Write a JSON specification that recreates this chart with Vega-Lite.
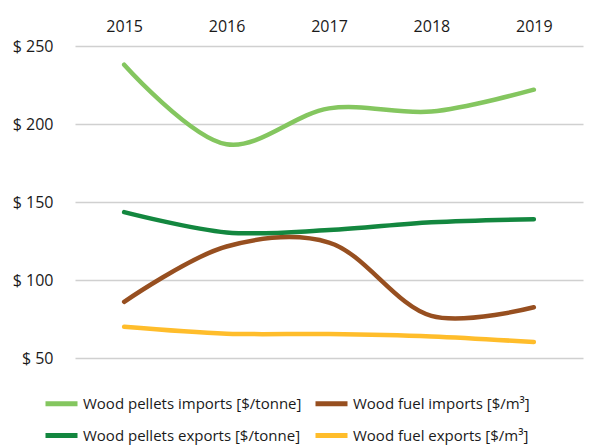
{
  "$schema": "https://vega.github.io/schema/vega-lite/v6.json",
  "width": 508,
  "height": 312,
  "autosize": "none",
  "padding": {"left": 75, "top": 46, "right": 9, "bottom": 89},
  "background": "white",
  "config": {
    "font": "Open Sans",
    "view": {"stroke": null}
  },
  "data": {
    "values": [
      {"year": "2015", "series": "Wood pellets imports [$/tonne]", "price": 238},
      {"year": "2016", "series": "Wood pellets imports [$/tonne]", "price": 187},
      {"year": "2017", "series": "Wood pellets imports [$/tonne]", "price": 210},
      {"year": "2018", "series": "Wood pellets imports [$/tonne]", "price": 208},
      {"year": "2019", "series": "Wood pellets imports [$/tonne]", "price": 222},
      {"year": "2015", "series": "Wood pellets exports [$/tonne]", "price": 143.5},
      {"year": "2016", "series": "Wood pellets exports [$/tonne]", "price": 130.5},
      {"year": "2017", "series": "Wood pellets exports [$/tonne]", "price": 132},
      {"year": "2018", "series": "Wood pellets exports [$/tonne]", "price": 137},
      {"year": "2019", "series": "Wood pellets exports [$/tonne]", "price": 139},
      {"year": "2015", "series": "Wood fuel imports [$/m³]", "price": 86},
      {"year": "2016", "series": "Wood fuel imports [$/m³]", "price": 121.5},
      {"year": "2017", "series": "Wood fuel imports [$/m³]", "price": 124},
      {"year": "2018", "series": "Wood fuel imports [$/m³]", "price": 77},
      {"year": "2019", "series": "Wood fuel imports [$/m³]", "price": 82.5},
      {"year": "2015", "series": "Wood fuel exports [$/m³]", "price": 70},
      {"year": "2016", "series": "Wood fuel exports [$/m³]", "price": 65.6},
      {"year": "2017", "series": "Wood fuel exports [$/m³]", "price": 65.4},
      {"year": "2018", "series": "Wood fuel exports [$/m³]", "price": 63.8},
      {"year": "2019", "series": "Wood fuel exports [$/m³]", "price": 60.2}
    ]
  },
  "mark": {"type": "line", "interpolate": "catmull-rom", "strokeWidth": 4.5, "strokeCap": "round"},
  "encoding": {
    "x": {
      "field": "year",
      "type": "ordinal",
      "scale": {"type": "point", "padding": 0.48},
      "axis": {
        "orient": "top",
        "title": null,
        "domain": false,
        "ticks": false,
        "labelAngle": 0,
        "labelFontSize": 16,
        "labelColor": "#1a1a1a",
        "labelPadding": 12,
        "grid": false
      }
    },
    "y": {
      "field": "price",
      "type": "quantitative",
      "scale": {"domain": [50, 250], "nice": false, "zero": false},
      "axis": {
        "title": null,
        "domain": false,
        "ticks": false,
        "values": [50, 100, 150, 200, 250],
        "labelExpr": "'$ ' + datum.value",
        "labelFontSize": 16,
        "labelColor": "#1a1a1a",
        "labelPadding": 22,
        "gridColor": "#d0d0d0",
        "gridWidth": 1.5
      }
    },
    "color": {
      "field": "series",
      "type": "nominal",
      "scale": {
        "domain": ["Wood pellets imports [$/tonne]", "Wood pellets exports [$/tonne]", "Wood fuel imports [$/m³]", "Wood fuel exports [$/m³]"],
        "range": ["#84C65F", "#13873F", "#974F20", "#FFBD2B"]
      },
      "legend": {
        "title": null,
        "orient": "none",
        "legendX": -32,
        "legendY": 339,
        "columns": 2,
        "columnPadding": 3,
        "rowPadding": 3,
        "symbolType": "stroke",
        "symbolSize": 1024,
        "symbolStrokeWidth": 5,
        "labelFontSize": 15,
        "labelColor": "#1a1a1a",
        "labelOffset": 3,
        "labelLimit": 400
      }
    }
  }
}
